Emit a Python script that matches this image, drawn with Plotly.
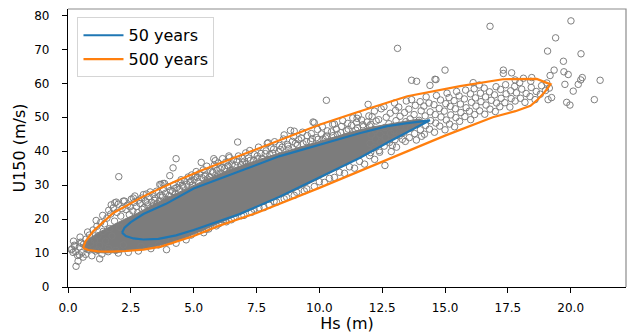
import plotly.graph_objects as go

# ---------------- data ----------------
# 50-year contour (Hs in m, U150 in m/s)
c50_hs = [2.15, 2.3, 2.6, 3.0, 3.6, 4.3, 5.0, 6.0, 6.8, 8.4, 10.0, 11.6, 12.7, 13.6, 14.4,
          13.5, 12.7, 11.6, 10.0, 8.4, 6.8, 5.0, 3.9, 3.0, 2.5, 2.25, 2.15]
c50_u = [16.0, 15.0, 14.3, 14.0, 14.2, 15.2, 16.8, 19.4, 21.4, 26.5, 32.3, 38.0, 42.5, 45.9, 49.1,
         48.3, 47.4, 45.3, 42.0, 38.5, 34.0, 29.0, 24.5, 21.5, 19.1, 17.5, 16.0]

# 500-year contour
c500_hs = [0.6, 0.8, 1.2, 1.7, 2.3, 3.0, 3.7, 5.0, 6.0, 7.5, 10.0, 12.5, 15.0, 16.9, 17.8, 18.4,
           18.7, 18.95, 19.2, 18.65, 17.3, 15.6, 13.5, 11.5, 10.0, 7.5, 5.4, 4.3, 3.0, 1.8,
           1.0, 0.7, 0.6]
c500_u = [11.5, 10.9, 10.5, 10.4, 10.6, 11.0, 11.9, 15.0, 18.0, 21.8, 29.2, 36.8, 44.6, 50.0,
          51.8, 53.4, 55.3, 57.3, 59.7, 61.3, 61.2, 59.2, 56.2, 51.5, 47.8, 40.6, 34.6, 31.2,
          26.7, 21.8, 16.4, 13.5, 11.5]

# outline of the region where the sample circles merge into solid grey
core_hs = [0.55, 0.7, 1.0, 1.5, 2.0, 2.5, 3.0, 3.5, 4.0, 4.6, 5.2, 6.0, 6.8, 7.6, 8.4, 9.2,
           10.0, 10.8, 11.6, 12.2, 12.7, 13.3, 13.8, 14.2,
           14.0, 13.4, 12.7, 12.0, 11.2, 10.4, 9.6, 8.8, 8.0, 7.2, 6.4, 5.6, 5.0, 4.4, 3.8,
           3.2, 2.7, 2.2, 1.7, 1.2, 0.8, 0.55]
core_u = [12.0, 10.8, 10.3, 10.0, 10.2, 10.7, 11.3, 12.0, 12.9, 14.3, 16.2, 18.9, 21.3, 23.8,
          26.5, 29.0, 32.0, 35.0, 38.0, 40.3, 42.5, 44.8, 46.8, 48.6,
          49.5, 48.8, 48.0, 47.0, 45.5, 43.8, 42.0, 40.3, 38.5, 36.5, 34.5, 32.0, 30.0, 28.0,
          25.8, 23.5, 21.5, 19.8, 18.0, 16.0, 14.0, 12.0]

# individual sample points (Hs, U150)
left_pts = [(0.15, 11.2), (0.25, 12.3), (0.3, 10.4), (0.38, 9.3), (0.45, 11.8), (0.5, 13.2),
            (0.55, 10.1), (0.62, 12.6), (0.7, 9.6), (0.72, 14.1), (0.8, 11.0), (0.85, 15.3),
            (0.9, 12.9), (0.95, 9.2), (1.0, 16.8), (1.05, 13.8), (1.1, 10.6), (1.15, 17.9),
            (1.2, 15.1), (1.25, 12.2), (1.3, 19.0), (1.35, 9.7), (1.4, 16.4), (1.45, 18.6),
            (1.5, 13.5), (1.55, 20.3), (1.6, 11.4), (1.65, 17.2), (1.7, 21.5), (1.75, 15.0),
            (1.8, 23.3), (1.85, 19.4), (1.9, 10.8), (1.95, 22.0), (2.0, 24.4), (2.05, 17.6),
            (2.1, 20.9), (2.15, 23.1), (2.2, 12.4), (2.25, 25.3), (0.32, 6.1), (0.4, 7.6),
            (1.26, 8.3), (0.6, 8.8), (0.22, 13.5), (0.48, 14.7), (0.78, 16.2), (1.12, 19.6),
            (1.38, 21.1), (1.62, 22.6), (1.72, 24.2), (1.92, 25.0), (2.02, 32.5),
            (0.13, 11.0), (0.27, 12.0), (0.2, 10.2), (0.45, 9.5), (0.53, 12.9)]

upper_pts = [(2.31, 22.8), (2.36, 24.1), (2.44, 21.3), (2.47, 23.6), (2.52, 25.9), (2.58, 22.4),
             (2.63, 24.9), (2.66, 26.8), (2.72, 23.7), (2.77, 21.9), (2.81, 25.6), (2.87, 24.6),
             (2.93, 26.2), (2.95, 22.9), (3.03, 23.4), (3.08, 25.3), (3.12, 27.4), (3.18, 24.2),
             (3.22, 26.6), (3.27, 28.0), (3.33, 25.0), (3.38, 27.3), (3.4, 23.9), (3.47, 26.1),
             (3.52, 28.2), (3.55, 24.6), (3.63, 25.4), (3.67, 27.0), (3.7, 30.2), (3.76, 26.5),
             (3.8, 28.9), (3.84, 30.5), (3.88, 27.6), (3.92, 25.8), (3.97, 29.6), (4.03, 26.9),
             (4.07, 28.4), (4.05, 32.8), (4.16, 28.1), (4.2, 30.0), (4.18, 35.1), (4.28, 27.5),
             (4.33, 29.3), (4.3, 37.8), (4.43, 28.8), (4.47, 30.7), (4.5, 31.6), (4.58, 29.6),
             (4.63, 31.2), (4.73, 30.3), (4.78, 32.4), (4.88, 31.1), (4.92, 33.0), (4.95, 30.0),
             (5.02, 31.6), (5.07, 32.6), (5.1, 34.0), (5.18, 31.0), (5.23, 33.4), (5.33, 32.2),
             (5.38, 34.5), (5.47, 33.0), (5.52, 35.6), (5.55, 31.8), (5.63, 32.5), (5.68, 34.1),
             (5.78, 33.7), (5.82, 35.9), (5.86, 37.2), (5.93, 34.4), (5.98, 36.5), (6.08, 33.6),
             (6.12, 35.2), (6.15, 37.8), (6.23, 34.9), (6.28, 36.8), (6.38, 35.6), (6.42, 38.1),
             (6.45, 34.3), (6.53, 36.2), (6.58, 37.4), (6.75, 42.7), (6.72, 36.9), (6.78, 38.6),
             (6.88, 36.0), (6.93, 37.9), (7.03, 37.1), (7.07, 39.5), (7.1, 36.2), (7.18, 38.0),
             (7.23, 40.2), (7.38, 37.4), (7.42, 39.0), (7.53, 38.6), (7.58, 41.2), (7.68, 39.3),
             (7.72, 37.9), (7.88, 40.1), (7.93, 42.3), (8.03, 39.0), (8.08, 41.0), (8.18, 40.6),
             (8.22, 42.8), (8.38, 39.8), (8.42, 41.7), (8.52, 41.2), (8.57, 43.6), (8.6, 44.8),
             (8.73, 42.0), (8.78, 40.7), (8.85, 46.1), (8.93, 42.9), (8.98, 44.3), (9.13, 41.9),
             (9.18, 43.4), (9.28, 43.9), (9.33, 45.6), (9.48, 42.8), (9.52, 44.6), (9.68, 45.2),
             (9.72, 43.7), (9.75, 48.6), (9.88, 44.0), (9.93, 46.4), (10.08, 45.1), (10.12, 47.2),
             (10.15, 43.6), (10.28, 44.5), (10.32, 46.0), (10.28, 55.0), (10.48, 45.7),
             (10.53, 47.9), (10.68, 46.5), (10.72, 44.9), (10.88, 47.3), (10.93, 49.0),
             (11.08, 46.0), (11.13, 48.2), (11.28, 47.6), (11.33, 49.8), (11.48, 48.5),
             (11.52, 46.9), (11.55, 50.6), (11.68, 49.2), (11.73, 47.8), (11.94, 53.8),
             (11.9, 48.6), (11.97, 50.4), (5.3, 36.7), (5.8, 37.8), (6.4, 38.6), (7.96, 42.5),
             (9.0, 45.9), (9.8, 48.4), (10.6, 48.0), (11.5, 49.7), (3.0, 27.2), (2.6, 26.2),
             (2.2, 25.3), (1.86, 24.8), (3.78, 30.5), (3.65, 30.2)]

edge_top_pts = [(3.15, 24.8), (3.45, 25.5), (3.75, 26.9), (4.25, 29.0), (4.55, 30.0),
                (4.85, 30.9), (5.15, 32.3), (5.45, 32.6), (5.75, 33.9), (6.05, 34.8),
                (6.35, 35.7), (6.65, 35.9), (6.95, 36.8), (7.25, 37.3), (7.55, 37.8),
                (7.85, 39.3), (8.15, 39.4), (8.45, 40.5), (8.75, 41.5), (9.05, 42.3),
                (9.35, 42.2), (9.65, 43.0), (9.95, 43.5), (10.25, 43.9), (10.55, 44.6),
                (10.85, 45.5), (11.15, 46.5), (11.45, 46.2), (11.75, 47.2), (12.05, 47.9)]

edge_bottom_pts = [(5.5, 17.0), (5.9, 18.0), (6.2, 19.9), (6.5, 19.8), (6.9, 21.0), (7.4, 22.9),
                   (7.8, 23.4), (8.2, 25.2), (8.6, 26.0), (9.1, 27.9), (9.5, 28.9), (10.0, 31.0),
                   (10.4, 32.0), (10.8, 33.8), (11.2, 35.4), (11.6, 37.0), (12.0, 38.7),
                   (12.4, 39.7), (12.9, 41.7), (13.3, 43.5)]

tail_pts = [(12.02, 42.3), (12.06, 44.8), (12.0, 47.5), (12.1, 50.2), (12.04, 39.6),
            (12.18, 41.0), (12.23, 43.6), (12.21, 46.2), (12.26, 48.9), (12.19, 51.8),
            (12.38, 40.2), (12.44, 42.7), (12.41, 45.0), (12.36, 49.3), (12.46, 52.5),
            (12.58, 41.5), (12.63, 44.1), (12.61, 47.0), (12.66, 50.0), (12.57, 53.1),
            (12.79, 42.6), (12.84, 45.3), (12.77, 48.1), (12.82, 51.2), (12.86, 39.9),
            (13.01, 43.4), (12.97, 46.0), (13.05, 49.0), (13.03, 52.0), (12.99, 54.2),
            (13.07, 41.2), (13.18, 44.5), (13.23, 47.3), (13.21, 50.3), (13.16, 53.0),
            (13.42, 42.9), (13.37, 45.6), (13.44, 48.7), (13.39, 51.4), (13.46, 54.8),
            (13.58, 44.0), (13.63, 46.8), (13.61, 49.5), (13.56, 52.4), (13.67, 55.2),
            (13.67, 60.9), (13.87, 60.6), (13.79, 45.2), (13.84, 48.0), (13.77, 50.8),
            (13.82, 53.5), (13.86, 43.3), (14.02, 46.3), (13.97, 49.1), (14.05, 51.9),
            (14.01, 54.6), (14.07, 44.4), (14.18, 45.0), (14.23, 47.6), (14.21, 50.4),
            (14.16, 53.3), (14.25, 56.0), (14.38, 46.5), (14.43, 49.0), (14.41, 51.6),
            (14.36, 54.2), (14.4, 59.4), (14.58, 45.6), (14.63, 48.3), (14.61, 50.8),
            (14.56, 53.7), (14.66, 56.4), (14.6, 61.2), (14.64, 61.1), (14.79, 47.4),
            (14.84, 50.1), (14.77, 52.6), (14.82, 55.1), (15.0, 46.3), (15.05, 49.2),
            (14.97, 51.8), (15.03, 54.0), (15.08, 57.1), (15.0, 63.9), (15.18, 48.0),
            (15.23, 50.7), (15.21, 53.2), (15.16, 55.8), (15.38, 47.2), (15.43, 49.9),
            (15.41, 52.5), (15.36, 54.9), (15.46, 57.6), (15.58, 48.8), (15.63, 51.4),
            (15.61, 53.9), (15.56, 56.3), (15.79, 50.2), (15.84, 52.8), (15.77, 55.4),
            (15.82, 58.0), (16.02, 49.3), (15.97, 51.8), (16.05, 54.4), (16.01, 56.9),
            (16.12, 60.2), (16.18, 50.8), (16.23, 53.3), (16.21, 55.7), (16.16, 58.4),
            (16.38, 51.9), (16.43, 54.6), (16.41, 57.1), (16.36, 59.5), (16.58, 50.9),
            (16.63, 53.6), (16.61, 56.0), (16.56, 58.6), (16.79, 52.4), (16.84, 55.0),
            (16.77, 57.5), (16.79, 76.8), (17.0, 51.7), (17.05, 54.2), (16.97, 56.6),
            (17.03, 59.0), (17.18, 53.1), (17.23, 55.6), (17.21, 58.2), (17.32, 63.9),
            (17.32, 62.9), (17.65, 63.1), (17.79, 61.0), (18.12, 61.5), (18.45, 61.7),
            (17.38, 54.3), (17.43, 56.9), (17.41, 59.6), (17.58, 53.0), (17.63, 55.5),
            (17.61, 57.8), (17.79, 54.8), (17.84, 57.2), (17.77, 59.1), (18.0, 55.6),
            (18.05, 58.3), (17.97, 60.2), (18.18, 54.4), (18.23, 57.0), (18.38, 56.1),
            (18.43, 58.8), (18.41, 60.6), (18.58, 55.2), (18.63, 57.6), (18.79, 56.8),
            (18.84, 59.3), (19.0, 57.9), (19.05, 60.1), (19.15, 58.6)]

outlier_pts = [(13.11, 70.3), (20.01, 78.4), (19.4, 73.4), (19.08, 69.5), (20.41, 68.7),
               (19.71, 66.5), (19.34, 63.9), (19.73, 63.4), (19.9, 62.6), (20.46, 61.7),
               (20.4, 61.0), (21.17, 60.9), (20.3, 59.7), (20.1, 57.7), (19.77, 59.7),
               (19.18, 62.3), (20.94, 55.2), (19.84, 54.4), (19.97, 53.6), (19.24, 55.8),
               (19.1, 55.2), (12.61, 35.8)]

lower_pts = [(5.2, 16.6), (5.6, 17.1), (6.0, 18.6), (6.3, 19.2), (6.6, 20.5), (7.0, 21.1),
             (7.3, 22.0), (7.6, 23.3), (8.0, 24.1), (8.3, 25.0), (8.7, 26.4), (9.0, 27.0),
             (9.4, 28.3), (9.8, 29.6), (10.2, 30.8), (10.6, 32.3), (11.0, 33.5), (11.4, 35.0),
             (11.8, 36.2), (12.2, 37.6), (3.92, 11.0), (4.3, 12.9), (4.7, 13.9), (3.3, 11.3),
             (2.8, 10.6), (2.4, 10.2), (2.0, 10.0), (1.6, 10.4), (1.2, 10.9), (2.9, 12.0),
             (3.6, 12.4), (4.1, 13.6), (4.9, 15.3), (5.4, 16.0)]

x_ticks = [0.0, 2.5, 5.0, 7.5, 10.0, 12.5, 15.0, 17.5, 20.0]
x_tick_labels = ["0.0", "2.5", "5.0", "7.5", "10.0", "12.5", "15.0", "17.5", "20.0"]
y_ticks = [0, 10, 20, 30, 40, 50, 60, 70, 80]

# ---------------- figure ----------------
GREY = "#7f7f7f"
all_pts = (left_pts + upper_pts + edge_top_pts + edge_bottom_pts + tail_pts
           + outlier_pts + lower_pts)
pts_hs = [p[0] for p in all_pts]
pts_u = [p[1] for p in all_pts]

fig = go.Figure()
fig.add_trace(go.Scatter(x=core_hs, y=core_u, mode="lines", fill="toself",
                         fillcolor="#7c7c7c", line=dict(color="#7c7c7c", width=1),
                         showlegend=False, hoverinfo="skip"))
fig.add_trace(go.Scatter(x=pts_hs, y=pts_u, mode="markers", showlegend=False,
                         marker=dict(symbol="circle-open", size=6.5, color=GREY,
                                     line=dict(width=1, color=GREY))))
fig.add_trace(go.Scatter(x=c50_hs, y=c50_u, mode="lines", name="50 years",
                         line=dict(color="#1f77b4", width=2.2)))
fig.add_trace(go.Scatter(x=c500_hs, y=c500_u, mode="lines", name="500 years",
                         line=dict(color="#ff7f0e", width=2.2)))

font = "DejaVu Sans"
fig.update_layout(
    width=630, height=335,
    margin=dict(l=68, r=4, t=9, b=48),
    paper_bgcolor="white", plot_bgcolor="white",
    font=dict(family=font, color="black"),
    legend=dict(x=0.017, y=0.97, xanchor="left", yanchor="top", itemwidth=40,
                bgcolor="rgba(255,255,255,0.85)", bordercolor="#d5d5d5", borderwidth=1,
                font=dict(family=font, size=16, color="black")),
    xaxis=dict(range=[0, 22.2], tickvals=x_ticks, ticktext=x_tick_labels,
               showgrid=False, zeroline=False, showline=True, linecolor="black", linewidth=1.2,
               ticks="outside", ticklen=5, tickcolor="black", ticklabelstandoff=4,
               tickfont=dict(family=font, size=12),
               title=dict(text="Hs (m)", font=dict(family=font, size=16), standoff=2)),
    yaxis=dict(range=[0, 81.9], tickvals=y_ticks,
               showgrid=False, zeroline=False, showline=True, linecolor="black", linewidth=1.2,
               ticks="outside", ticklen=5, tickcolor="black", ticklabelstandoff=10,
               tickfont=dict(family=font, size=12),
               title=dict(text="U150 (m/s)", font=dict(family=font, size=16), standoff=4)),
    shapes=[dict(type="path", xref="paper", yref="paper",
                 path="M 0 1 L 1 1 L 1 0", line=dict(color="#8c8c8c", width=1.2))],
)

fig.write_html("out.html", config={"displayModeBar": False},
               post_script="document.body.style.margin='0px';document.body.style.overflow='hidden';")
